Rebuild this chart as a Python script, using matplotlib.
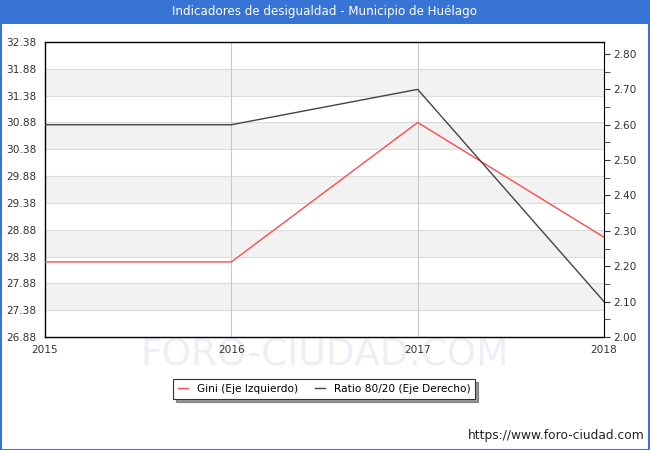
import numpy as np
import matplotlib.pyplot as plt
from matplotlib.patches import Rectangle

# Data
years = [2015, 2016, 2017, 2018]
gini = [28.28, 28.28, 30.88, 28.74]
ratio = [2.60, 2.60, 2.70, 2.10]
left_ticks = [26.88, 27.38, 27.88, 28.38, 28.88, 29.38, 29.88, 30.38, 30.88, 31.38, 31.88, 32.38]
right_ticks = [2.00, 2.10, 2.20, 2.30, 2.40, 2.50, 2.60, 2.70, 2.80]

plt.rcParams['font.family'] = ['DejaVu Sans']

fig = plt.figure(figsize=(6.5, 4.5), dpi=100)
fig.patch.set_facecolor('white')

# title bar and outer border
fig.patches.append(Rectangle((0, 1 - 24 / 450), 1, 24 / 450, transform=fig.transFigure,
                             facecolor='#3873d6', edgecolor='none', zorder=0))
fig.patches.append(Rectangle((0.0008, 0.001), 0.9984, 0.998, transform=fig.transFigure,
                             facecolor='none', edgecolor='#3873d6', linewidth=1.5, zorder=5))
fig.text(0.5, 1 - 12 / 450, 'Indicadores de desigualdad - Municipio de Huélago',
         color='white', fontsize=8.6, ha='center', va='center')

# watermark, drawn beneath everything else
wm = fig.text(0.5, 1 - 355 / 450, 'FORO-CIUDAD.COM', fontsize=27, color='#eeeef6',
              ha='center', va='center', zorder=-1)

ax = fig.add_axes([45 / 650, 1 - 337 / 450, (604 - 45) / 650, (337 - 42) / 450])
ax.set_facecolor('none')
ax.set_xlim(2015, 2018)
ax.set_ylim(26.88, 32.38)

# alternating bands
for i in range(len(left_ticks) - 1):
    if i % 2 == 1:
        ax.axhspan(left_ticks[i], left_ticks[i + 1], color='#f2f2f2', zorder=0, lw=0)
for t in left_ticks[1:-1]:
    ax.axhline(t, color='#dcdcdc', lw=0.8, zorder=0.5)
for y in years[1:-1]:
    ax.axvline(y, color='#c8c8c8', lw=0.8, zorder=0.5)

ax.plot(years, gini, color='#ff4c4c', lw=1.0, zorder=3, label='Gini (Eje Izquierdo)')
ax.set_yticks(left_ticks)
ax.set_yticklabels(['%.2f' % t for t in left_ticks])
ax.set_xticks(years)
ax.tick_params(axis='y', length=0, labelsize=7.6, colors='#333333', pad=6)
ax.tick_params(axis='x', length=0, labelsize=7.6, colors='#333333', pad=6)
for s in ['left', 'bottom', 'top']:
    ax.spines[s].set_color('black')
    ax.spines[s].set_linewidth(1.0)
ax.spines['right'].set_visible(False)

ax2 = ax.twinx()
ax2.set_ylim(2.00, 2.8339)
ax2.plot(years, ratio, color='#444444', lw=1.0, zorder=3, label='Ratio 80/20 (Eje Derecho)')
ax2.set_yticks(right_ticks)
ax2.set_yticklabels(['%.2f' % t for t in right_ticks])
ax2.set_yticks(np.arange(2.05, 2.80, 0.1), minor=True)
ax2.tick_params(axis='y', which='major', length=4, labelsize=7.6, colors='#333333', pad=3)
ax2.tick_params(axis='y', which='minor', length=4, color='#333333')
for s in ['left', 'bottom', 'top']:
    ax2.spines[s].set_visible(False)
ax2.spines['right'].set_color('black')

# legend
h1, l1 = ax.get_legend_handles_labels()
h2, l2 = ax2.get_legend_handles_labels()
leg = fig.legend(h1 + h2, l1 + l2, loc='center', bbox_to_anchor=(324 / 650, 1 - 389 / 450),
                 ncol=2, fontsize=7.6, frameon=True, fancybox=False, shadow={'color': '#333333'},
                 handlelength=1.0, columnspacing=1.6, borderpad=0.45)
leg.get_frame().set_edgecolor('#333333')
leg.get_frame().set_linewidth(0.8)

fig.text(645 / 650, 1 - 435 / 450, 'https://www.foro-ciudad.com', fontsize=8.8,
         color='#222222', ha='right', va='center')

fig.savefig('out.png', dpi=100)
